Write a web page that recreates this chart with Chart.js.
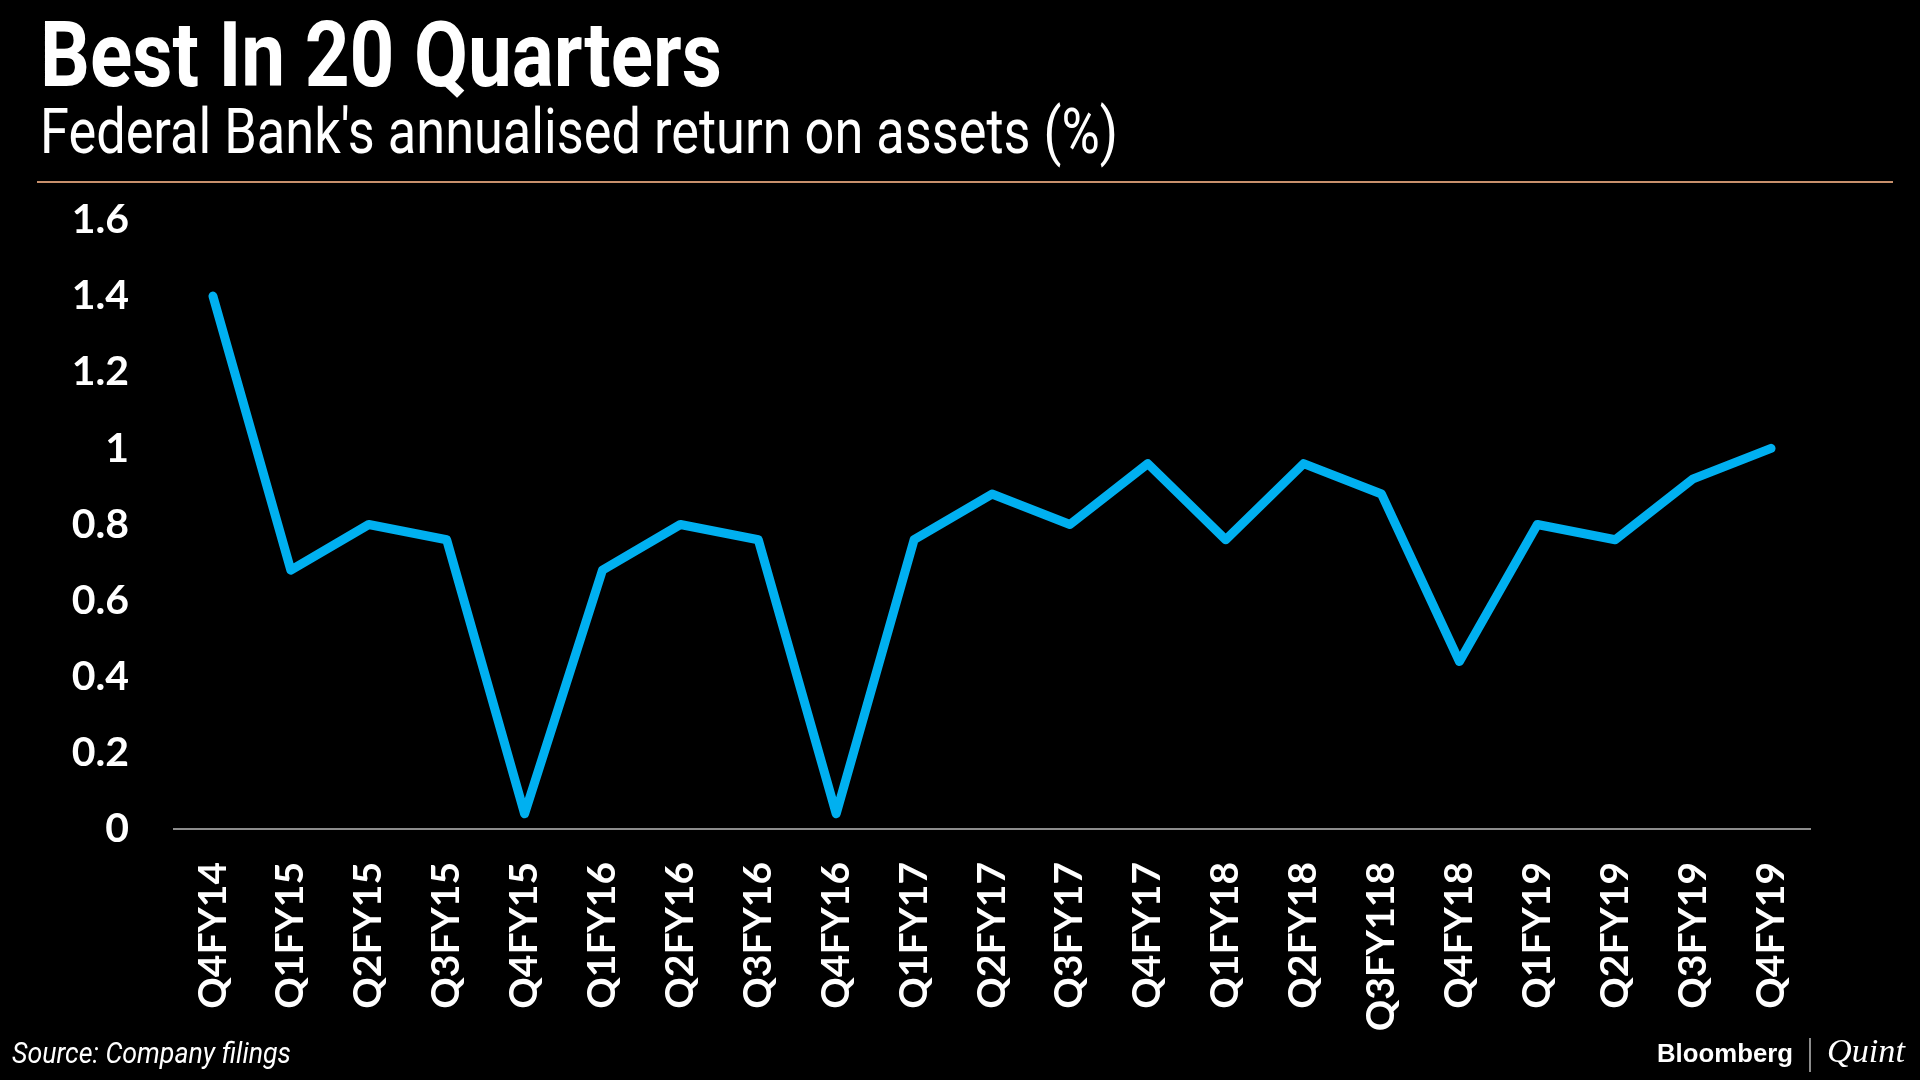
<!DOCTYPE html>
<html>
<head>
<meta charset="utf-8">
<title>Best In 20 Quarters</title>
<script src="https://cdn.jsdelivr.net/npm/chart.js@4.4.1/dist/chart.umd.min.js"></script>
<style>
  html, body { margin: 0; padding: 0; background: #000; }
  #chart { display: block; }
</style>
</head>
<body>
<canvas id="chart" width="1920" height="1080"></canvas>
<script>
// Federal Bank annualised RoA (%)
const quarters = ['Q4FY14', 'Q1FY15', 'Q2FY15', 'Q3FY15', 'Q4FY15', 'Q1FY16', 'Q2FY16',
    'Q3FY16', 'Q4FY16', 'Q1FY17', 'Q2FY17', 'Q3FY17', 'Q4FY17', 'Q1FY18', 'Q2FY18',
    'Q3FY118', 'Q4FY18', 'Q1FY19', 'Q2FY19', 'Q3FY19', 'Q4FY19'];
const roa = [1.40, 0.68, 0.80, 0.76, 0.04, 0.68, 0.80, 0.76, 0.04, 0.76, 0.88, 0.80,
    0.96, 0.76, 0.96, 0.88, 0.44, 0.80, 0.76, 0.92, 1.00];
const yMin = 0;
const yMax = 1.6;
const yStep = 0.2;

const title = 'Best In 20 Quarters';
const subtitle = "Federal Bank's annualised return on assets (%)";
const source = 'Source: Company filings';

// draw text squeezed to a given width (the original uses a condensed face)
function fitText(ctx, text, x, y, font, width) {
    ctx.save();
    ctx.font = font;
    const w = ctx.measureText(text).width;
    ctx.translate(x, y);
    ctx.scale(width / w, 1);
    ctx.fillText(text, 0, 0);
    ctx.restore();
}

const framePlugin = {
    id: 'frame',
    beforeDraw: (chart) => {
        const ctx = chart.ctx;
        ctx.save();
        ctx.fillStyle = '#000';
        ctx.fillRect(0, 0, chart.width, chart.height);
        ctx.restore();
    },
    afterDraw: (chart) => {
        const ctx = chart.ctx;
        ctx.save();
        ctx.fillStyle = '#fff';
        ctx.textBaseline = 'alphabetic';
        ctx.textAlign = 'left';
        fitText(ctx, title, 40, 86, 'bold 91px Roboto', 682);
        fitText(ctx, subtitle, 40, 153, '63px Roboto', 1078);
        fitText(ctx, source, 12, 1063, 'italic 29px Roboto', 279);

        // header rule
        ctx.strokeStyle = '#c8906c';
        ctx.lineWidth = 2;
        ctx.beginPath();
        ctx.moveTo(37, 182);
        ctx.lineTo(1893, 182);
        ctx.stroke();

        // Bloomberg | Quint mark
        fitText(ctx, 'Bloomberg', 1657, 1062, 'bold 26px "Liberation Sans"', 136);
        ctx.strokeStyle = '#bbb';
        ctx.lineWidth = 1.5;
        ctx.beginPath();
        ctx.moveTo(1810, 1038);
        ctx.lineTo(1810, 1072);
        ctx.stroke();
        fitText(ctx, 'Quint', 1827, 1062, 'italic 34px "Liberation Serif"', 78);
        ctx.restore();
    }
};

const ctx = document.getElementById('chart').getContext('2d');
new Chart(ctx, {
    type: 'line',
    data: {
        labels: quarters,
        datasets: [{
            label: 'RoA',
            data: roa,
            borderColor: '#00b0f0',
            borderWidth: 9,
            borderCapStyle: 'round',
            borderJoinStyle: 'round',
            pointRadius: 0,
            tension: 0,
            fill: false
        }]
    },
    options: {
        responsive: false,
        animation: false,
        layout: {
            padding: { top: 220, right: 110, bottom: 0, left: 0 }
        },
        plugins: {
            legend: { display: false },
            tooltip: { enabled: false }
        },
        scales: {
            x: {
                offset: true,
                grid: { display: false, drawTicks: false },
                border: { display: true, color: '#8c8c8c', width: 2 },
                ticks: {
                    color: '#fff',
                    font: { family: 'Lato', weight: 'bold', size: 39 },
                    minRotation: 90,
                    maxRotation: 90,
                    autoSkip: false,
                    padding: 33
                },
                afterFit: (scale) => { scale.height = 251; }
            },
            y: {
                min: yMin,
                max: yMax,
                grid: { display: false, drawTicks: false },
                border: { display: false },
                ticks: {
                    stepSize: yStep,
                    color: '#fff',
                    font: { family: 'Lato', weight: 'bold', size: 41 },
                    padding: 45,
                    callback: (v) => String(+v.toFixed(1))
                },
                afterFit: (scale) => { scale.width = 174; }
            }
        }
    },
    plugins: [framePlugin]
});
</script>
</body>
</html>
